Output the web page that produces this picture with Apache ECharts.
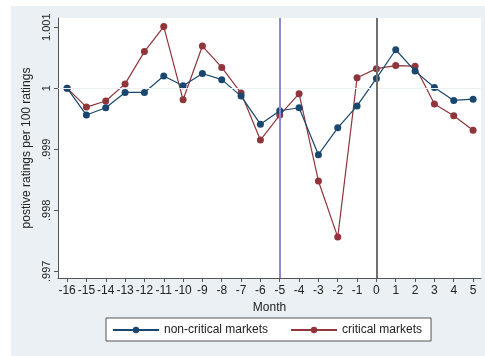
<!DOCTYPE html>
<html>
<head>
<meta charset="utf-8">
<script src="https://cdn.jsdelivr.net/npm/echarts@6/dist/echarts.min.js"></script>
<style>
  html, body { margin: 0; padding: 0; background: #ffffff; }
  #chart { width: 485px; height: 356px; }
</style>
</head>
<body>
<div id="chart"></div>
<script>
// Months relative to the event
const months = [-16,-15,-14,-13,-12,-11,-10,-9,-8,-7,-6,-5,-4,-3,-2,-1,0,1,2,3,4,5];

// Positive ratings per 100 ratings, indexed to month -16
const nonCritical = [1.0000,0.99956,0.99968,0.99993,0.99993,1.0002,1.00004,1.00024,1.00014,0.99987,
                     0.99941,0.99963,0.99968,0.99891,0.99935,0.99971,1.00016,1.00063,1.00028,1.00001,0.99980,0.99982];
const critical    = [1.0000,0.99969,0.99979,1.00007,1.0006,1.00101,0.99981,1.00069,1.00034,0.99992,
                     0.99915,0.99956,0.99991,0.99848,0.99756,1.00017,1.00032,1.00037,1.00036,0.99974,0.99955,0.99931];

// Axis ticks and labels
const yTicks = [0.997, 0.998, 0.999, 1, 1.001];
const yTickLabels = ['.997', '.998', '.999', '1', '1.001'];
const xTicks = months;

// Reference months marked with vertical lines
const markerMonths = [-5, 0];

const font = 'Liberation Sans, Arial, sans-serif';
const navy = '#1a476f';
const maroon = '#90353b';

function yLabel(v) {
  for (let i = 0; i < yTicks.length; i++) {
    if (Math.abs(v - yTicks[i]) < 1e-7) return yTickLabels[i];
  }
  return '';
}

const chart = echarts.init(document.getElementById('chart'), null, { renderer: 'canvas' });

chart.setOption({
  animation: false,
  backgroundColor: '#ffffff',
  graphic: [{
    type: 'rect',
    left: 11, top: 6,
    shape: { width: 474, height: 350 },
    style: { fill: '#eaf0f3' },
    z: -10, silent: true
  }],
  grid: {
    left: 58, top: 18, right: 4, bottom: 78,
    show: true, backgroundColor: '#ffffff', borderWidth: 0
  },
  legend: {
    left: 106, top: 318,
    width: 327,
    padding: [6, 9, 5, 6],
    backgroundColor: '#ffffff',
    borderColor: '#555555', borderWidth: 1, borderRadius: 0,
    itemWidth: 46, itemHeight: 8, itemGap: 22,
    textStyle: { fontFamily: font, fontSize: 12, color: '#222222' },
    data: ['non-critical markets', 'critical markets']
  },
  xAxis: {
    type: 'value',
    min: -16.47, max: 5.41,
    name: 'Month', nameLocation: 'middle', nameGap: 22,
    nameTextStyle: { fontFamily: font, fontSize: 12, color: '#222222' },
    axisLine: { show: true, onZero: false, lineStyle: { color: '#555555', width: 1 } },
    axisTick: { show: true, length: 4, customValues: xTicks, lineStyle: { color: '#555555' } },
    axisLabel: { customValues: xTicks, fontFamily: font, fontSize: 12, color: '#222222', margin: 7 },
    splitLine: { show: false }
  },
  yAxis: {
    type: 'value',
    min: 0.99689, max: 1.00115,
    name: 'postive ratings per 100 ratings', nameLocation: 'middle', nameGap: 22,
    nameTextStyle: { fontFamily: font, fontSize: 12, color: '#222222' },
    axisLine: { show: true, onZero: false, lineStyle: { color: '#555555', width: 1 } },
    axisTick: { show: true, length: 4, customValues: yTicks, lineStyle: { color: '#555555' } },
    axisLabel: {
      customValues: yTicks, rotate: 90, fontFamily: font, fontSize: 11, color: '#222222',
      margin: 6, formatter: yLabel
    },
    splitLine: { show: false }
  },
  series: [
    {
      name: 'gridlines',
      type: 'line', data: [], silent: true,
      markLine: {
        silent: true, symbol: 'none', label: { show: false },
        lineStyle: { color: '#ebf1f2', width: 1, type: 'solid' },
        data: yTicks.map(v => ({ yAxis: v }))
      },
      z: 1
    },
    {
      name: 'markers',
      type: 'line', data: [], silent: true,
      markLine: {
        silent: true, symbol: 'none', label: { show: false },
        data: [
          { xAxis: markerMonths[0], lineStyle: { color: '#8a8ad8', width: 2, type: 'solid' } },
          { xAxis: markerMonths[1], lineStyle: { color: '#707070', width: 2, type: 'solid' } }
        ]
      },
      z: 2
    },
    {
      name: 'non-critical markets',
      type: 'line',
      data: months.map((m, i) => [m, nonCritical[i]]),
      symbol: 'circle', symbolSize: 7,
      itemStyle: { color: navy },
      lineStyle: { color: navy, width: 1.2 },
      z: 4
    },
    {
      name: 'critical markets',
      type: 'line',
      data: months.map((m, i) => [m, critical[i]]),
      symbol: 'circle', symbolSize: 7,
      itemStyle: { color: maroon },
      lineStyle: { color: maroon, width: 1.2 },
      z: 3
    }
  ]
});
</script>
</body>
</html>
